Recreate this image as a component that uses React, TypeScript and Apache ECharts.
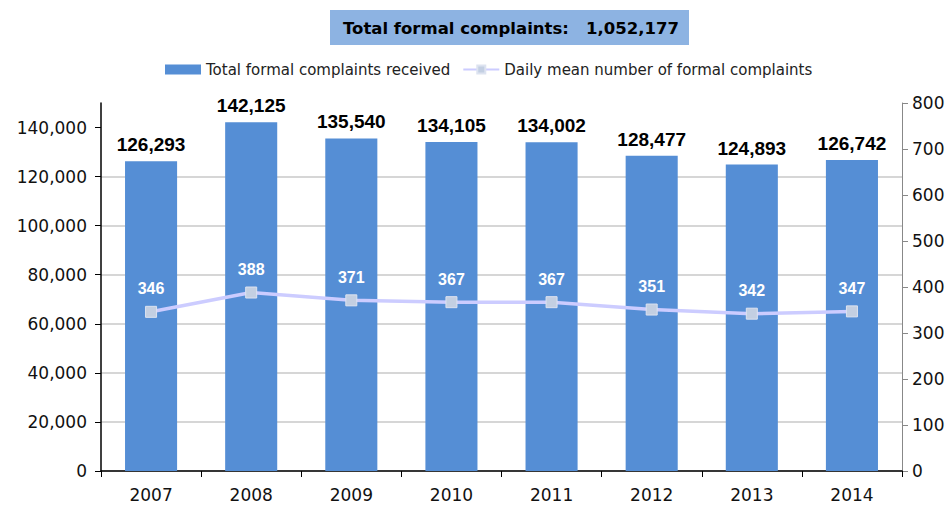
import React, { useEffect, useRef } from "react";
import * as echarts from "echarts";

const years = ["2007", "2008", "2009", "2010", "2011", "2012", "2013", "2014"];
const totalComplaints = [126293, 142125, 135540, 134105, 134002, 128477, 124893, 126742];
const dailyMean = [346, 388, 371, 367, 367, 351, 342, 347];
const leftTicks = [0, 20000, 40000, 60000, 80000, 100000, 120000, 140000];
const titleText = "Total formal complaints:   1,052,177";

const FONT = "DejaVu Sans";
const BOLD_FONT = "Liberation Sans";

export default function App() {
  const ref = useRef<HTMLDivElement>(null);
  useEffect(() => {
    const chart = echarts.init(ref.current!, null, { renderer: "svg" });
    chart.setOption({
      animation: false,
      textStyle: { fontFamily: FONT },
      graphic: [
        {
          type: "rect",
          shape: { x: 330, y: 10, width: 359, height: 35 },
          style: { fill: "#8DB3E2" },
        },
        {
          type: "text",
          x: 511,
          y: 28,
          style: {
            text: titleText,
            fontFamily: FONT,
            fontSize: 16.5,
            fontWeight: "bold",
            fill: "#000",
            align: "center",
            verticalAlign: "middle",
          },
        },
      ],
      legend: {
        top: 57,
        left: 160,
        itemWidth: 36,
        itemHeight: 10,
        itemGap: 12,
        textStyle: { fontSize: 15, color: "#222", fontFamily: FONT },
        data: [
          { name: "Total formal complaints received", icon: "rect" },
          { name: "Daily mean number of formal complaints" },
        ],
      },
      grid: { left: 101, right: 49, top: 103, bottom: 34 },
      xAxis: {
        type: "category",
        data: years,
        axisLine: { lineStyle: { color: "#000", width: 1.5 } },
        axisTick: { show: true, alignWithLabel: false, length: 6, lineStyle: { color: "#000" } },
        axisLabel: { fontSize: 17, color: "#111", margin: 15, fontFamily: FONT },
      },
      yAxis: [
        {
          type: "value",
          min: 0,
          max: 150000,
          interval: 20000,
          axisLine: { show: true, lineStyle: { color: "#000", width: 1.5 } },
          axisTick: { show: true, length: 6, inside: false, customValues: leftTicks, lineStyle: { color: "#000" } },
          axisLabel: {
            fontSize: 17,
            color: "#111",
            margin: 14,
            fontFamily: FONT,
            customValues: leftTicks,
            formatter: (v: number) => v.toLocaleString("en-US"),
          },
          splitLine: { show: true, showMaxLine: false, lineStyle: { color: "#C8C8C8", width: 1.5 } },
        },
        {
          type: "value",
          min: 0,
          max: 800,
          interval: 100,
          position: "right",
          axisLine: { show: true, lineStyle: { color: "#888", width: 1 } },
          axisTick: { show: true, length: 6, lineStyle: { color: "#888" } },
          axisLabel: { fontSize: 17, color: "#111", margin: 10, fontFamily: FONT },
          splitLine: { show: false },
        },
      ],
      series: [
        {
          name: "Total formal complaints received",
          type: "bar",
          data: totalComplaints,
          barWidth: "52%",
          itemStyle: { color: "#558ED5" },
          label: {
            show: true,
            position: "top",
            distance: 7,
            fontSize: 19,
            fontWeight: "bold",
            color: "#000",
            fontFamily: BOLD_FONT,
            formatter: (p: any) => p.value.toLocaleString("en-US"),
          },
          z: 2,
        },
        {
          name: "Daily mean number of formal complaints",
          type: "line",
          yAxisIndex: 1,
          data: dailyMean,
          symbol: "rect",
          symbolSize: 11,
          lineStyle: { color: "#CCCCFF", width: 3.5 },
          itemStyle: { color: "#C3CFE2", borderColor: "#DDE3F0", borderWidth: 1 },
          label: {
            show: true,
            position: "top",
            distance: 9,
            fontSize: 16,
            fontWeight: "bold",
            color: "#fff",
            fontFamily: BOLD_FONT,
          },
          z: 3,
        },
      ],
    });
    return () => chart.dispose();
  }, []);
  return (
    <div
      ref={ref}
      style={{ position: "absolute", left: 0, top: 0, width: 951, height: 505 }}
    />
  );
}
